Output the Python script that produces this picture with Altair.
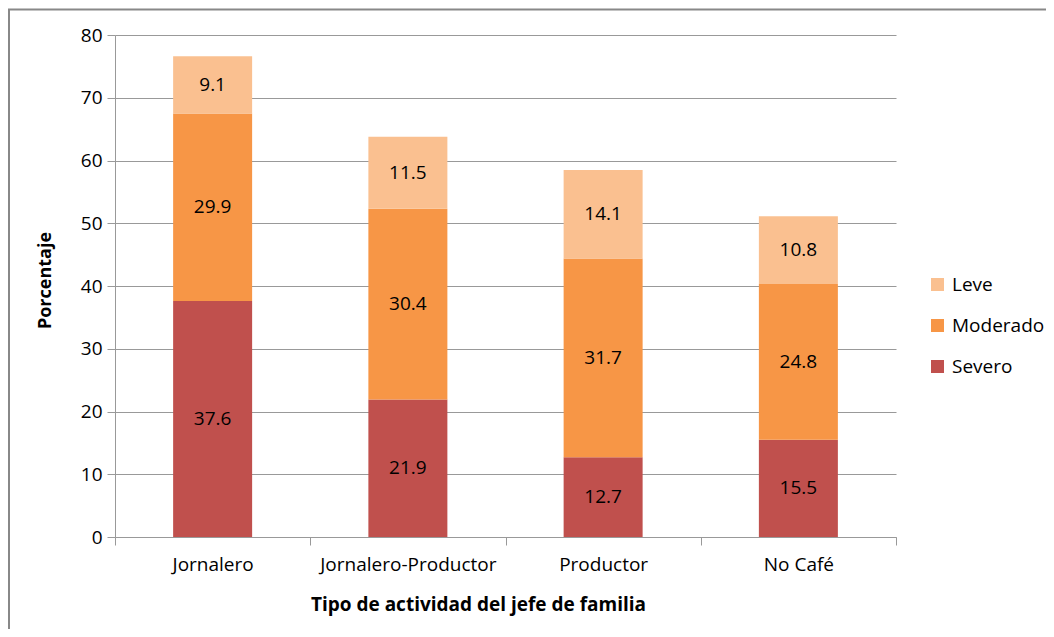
import altair as alt
import pandas as pd

categories = ["Jornalero", "Jornalero-Productor", "Productor", "No Café"]
severo = [37.6, 21.9, 12.7, 15.5]
moderado = [29.9, 30.4, 31.7, 24.8]
leve = [9.1, 11.5, 14.1, 10.8]
series = ["Leve", "Moderado", "Severo"]
colors = ["#FAC090", "#F79646", "#C0504D"]
stack_order = {"Severo": 0, "Moderado": 1, "Leve": 2}

rows = []
for i, c in enumerate(categories):
    for name, vals in (("Severo", severo), ("Moderado", moderado), ("Leve", leve)):
        rows.append({"cat": c, "serie": name, "val": vals[i], "ord": stack_order[name]})
df = pd.DataFrame(rows)

FONT = "Open Sans"
FS = 19

base = alt.Chart(df).transform_stack(
    stack="val", groupby=["cat"], as_=["v0", "v1"],
    sort=[alt.SortField("ord", order="ascending")]
).transform_calculate(mid="(datum.v0 + datum.v1) / 2")

xenc = alt.X(
    "cat:N", sort=categories, title="Tipo de actividad del jefe de familia",
    scale=alt.Scale(paddingInner=0, paddingOuter=0),
    axis=alt.Axis(
        tickBand="extent", tickSize=8, labelPadding=10, grid=False,
        labelAngle=0, domainColor="#999999", tickColor="#999999",
        labelFont=FONT, labelFontSize=FS, labelColor="#000000",
        titleFont=FONT, titleFontSize=19, titleFontWeight="bold", titleColor="#000000",
        titleX=363, titleY=67, titleBaseline="middle", titleAlign="center",
    ),
)

bars = base.mark_bar(width=79).encode(
    x=xenc,
    y=alt.Y(
        "v0:Q", title="Porcentaje",
        scale=alt.Scale(domain=[0, 80]),
        axis=alt.Axis(
            values=[0, 10, 20, 30, 40, 50, 60, 70, 80], tickSize=8, labelPadding=5,
            grid=True, gridColor="#999999", domainColor="#999999", tickColor="#999999",
            labelFont=FONT, labelFontSize=FS, labelColor="#000000",
            titleFont=FONT, titleFontSize=18, titleFontWeight="bold", titleColor="#000000",
            titleX=-70, titleY=245, titleAngle=270, titleAlign="center", titleBaseline="middle",
        ),
    ),
    y2="v1:Q",
    color=alt.Color(
        "serie:N", scale=alt.Scale(domain=series, range=colors),
        legend=alt.Legend(
            title=None, orient="none", legendX=813, legendY=240,
            symbolType="square", symbolSize=169, symbolStrokeWidth=0,
            labelFont=FONT, labelFontSize=FS, labelColor="#000000",
            rowPadding=21, padding=0, labelOffset=5,
        ),
    ),
)

labels = base.mark_text(font=FONT, fontSize=FS, color="#000000", baseline="middle").encode(
    x=alt.X("cat:N", sort=categories),
    y=alt.Y("mid:Q"),
    text=alt.Text("val:Q", format=".1f"),
)

border = alt.Chart(alt.Data(values=[{"a": 1}])).mark_rect(
    fill="transparent", stroke="#888888", strokeWidth=2
).encode(
    x=alt.value(-106), x2=alt.value(2000), y=alt.value(-25.5), y2=alt.value(2000)
)

chart = alt.layer(bars, labels, border).properties(
    width=781, height=502,
    autosize=alt.AutoSizeParams(type="none"),
    padding={"left": 107, "top": 27, "right": 150, "bottom": 92},
).configure_view(stroke=None)

chart.save("out.html", embed_options={"renderer": "svg", "actions": False})
